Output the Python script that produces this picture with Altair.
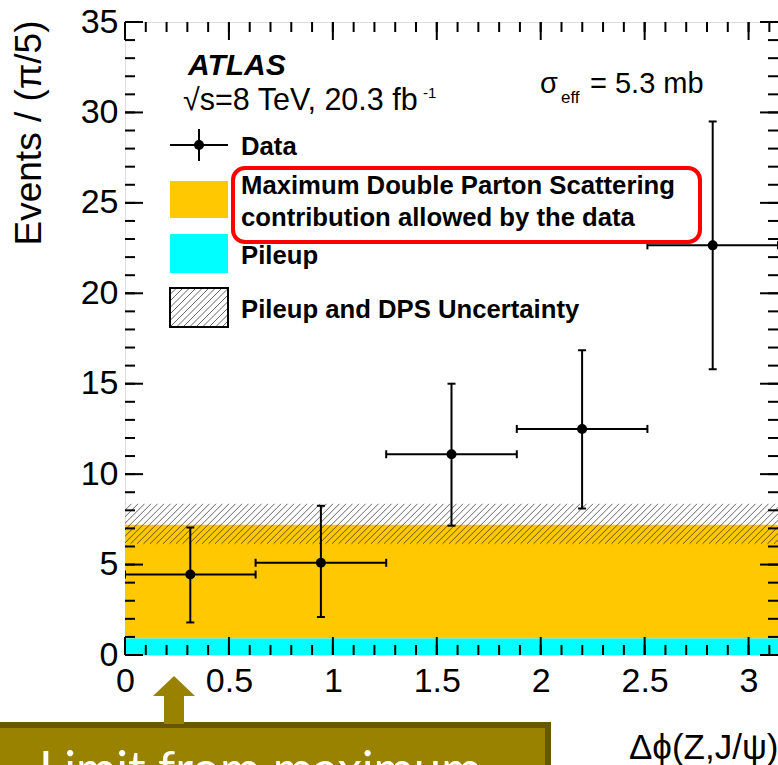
import math
import altair as alt
import pandas as pd

PI = math.pi

# Delta-phi binning: five bins of width pi/5
bin_edges = [0.0, PI / 5, 2 * PI / 5, 3 * PI / 5, 4 * PI / 5, PI]
events = [4.45, 5.10, 11.10, 12.50, 22.65]
err_low = [1.80, 2.10, 7.15, 8.10, 15.80]
err_high = [7.05, 8.25, 15.00, 16.85, 29.50]

# Flat expectations (stacked): pileup, then maximum DPS on top of it
pileup_level = 0.93
dps_level = 7.20
unc_low = 6.15
unc_high = 8.36

x_tick_values = [0, 0.5, 1, 1.5, 2, 2.5, 3]
y_tick_values = [0, 5, 10, 15, 20, 25, 30, 35]
x_minor_values = [round(0.1 * i, 1) for i in range(32)]
y_minor_values = list(range(36))

W, H = 653, 633
FONT = "Liberation Sans"
ORANGE = "#ffc800"
CYAN = "#00ffff"
OLIVE = "#998200"

xs = alt.Scale(domain=[0, PI], nice=False, zero=False)
ys = alt.Scale(domain=[0, 35], nice=False, zero=False)

# One axis definition shared by every layer so that the merged axis stays enabled
AX_X = alt.Axis(
    values=x_tick_values, format="~g", ticks=False, domain=False, grid=False,
    labelFont=FONT, labelFontSize=34, labelColor="black", labelPadding=9,
    labelFlush=False, labelOverlap=False,
    title="Δϕ(Z,J/ψ)", titleFont=FONT, titleFontSize=35, titleFontWeight="normal",
    titleColor="black", titleAlign="right", titleX=W, titleY=103,
    titleBaseline="alphabetic")
AX_Y = alt.Axis(
    values=y_tick_values, ticks=False, domain=False, grid=False,
    labelFont=FONT, labelFontSize=34, labelColor="black", labelPadding=7,
    labelFlush=False, labelOverlap=False,
    title="Events / (π/5)", titleFont=FONT, titleFontSize=37, titleFontWeight="normal",
    titleColor="black", titleAngle=270, titleAlign="right", titleX=-96, titleY=-2,
    titleBaseline="middle")


def X(field):
    return alt.X(field, scale=xs, axis=AX_X)


def Y(field):
    return alt.Y(field, scale=ys, axis=AX_Y)


pts = pd.DataFrame({
    "lo": bin_edges[:-1],
    "hi": bin_edges[1:],
    "n": events,
    "elo": err_low,
    "ehi": err_high,
})
pts["c"] = (pts["lo"] + pts["hi"]) / 2

bands = pd.DataFrame({
    "x0": [0.0, 0.0],
    "x1": [PI, PI],
    "y0": [0.0, pileup_level],
    "y1": [pileup_level, dps_level],
    "col": [CYAN, ORANGE],
})

band_layer = alt.Chart(bands).mark_rect().encode(
    x=X("x0:Q"), x2="x1:Q",
    y=Y("y0:Q"), y2="y1:Q",
    color=alt.Color("col:N", scale=None),
)

# Diagonal hatching of the uncertainty band, one 45-degree line per row
px_per_x = W / PI
px_per_y = H / 35
run = (unc_high - unc_low) * px_per_y / px_per_x
step = 6.5 / px_per_x
n_lines = int((PI + run) / step) + 2
hatch = pd.DataFrame({"k": list(range(n_lines))})
hatch["xa"] = -run + hatch["k"] * step
hatch["xb"] = hatch["xa"] + run
hatch["ya"] = unc_low
hatch["yb"] = unc_high

hatch_layer = alt.Chart(hatch).mark_rule(clip=True, color="black", strokeOpacity=0.6, strokeWidth=1).encode(
    x=X("xa:Q"), x2="xb:Q",
    y=Y("ya:Q"), y2="yb:Q",
)


# Inward tick marks on all four sides
def xticks(values, length):
    d = pd.DataFrame({"v": values})
    bottom = alt.Chart(d).mark_rule(color="black", strokeWidth=2).encode(
        x=X("v:Q"), y=alt.value(H), y2=alt.value(H - length))
    top = alt.Chart(d).mark_rule(color="black", strokeWidth=2).encode(
        x=X("v:Q"), y=alt.value(0), y2=alt.value(length))
    return [bottom, top]


def yticks(values, length):
    d = pd.DataFrame({"v": values})
    left = alt.Chart(d).mark_rule(color="black", strokeWidth=2).encode(
        y=Y("v:Q"), x=alt.value(0), x2=alt.value(length))
    right = alt.Chart(d).mark_rule(color="black", strokeWidth=2).encode(
        y=Y("v:Q"), x=alt.value(W), x2=alt.value(W - length))
    return [left, right]


tick_layers = (xticks(x_minor_values, 10) + xticks(x_tick_values, 18)
               + yticks(y_minor_values, 10) + yticks(y_tick_values, 18))

# Data: bin-width bars, statistical error bars, caps and markers
hbar = alt.Chart(pts).mark_rule(color="black", strokeWidth=2, clip=True).encode(
    x=X("lo:Q"), x2="hi:Q", y=Y("n:Q"))
vbar = alt.Chart(pts).mark_rule(color="black", strokeWidth=2).encode(
    x=X("c:Q"), y=Y("elo:Q"), y2="ehi:Q")

caps_v = pd.concat([
    pd.DataFrame({"x": pts["lo"], "y": pts["n"]}),
    pd.DataFrame({"x": pts["hi"], "y": pts["n"]}),
])
caps_h = pd.concat([
    pd.DataFrame({"x": pts["c"], "y": pts["elo"]}),
    pd.DataFrame({"x": pts["c"], "y": pts["ehi"]}),
])
cap_v_layer = alt.Chart(caps_v).mark_point(shape="M0,-1V1", size=64, stroke="black",
                                           strokeWidth=2, opacity=1, clip=True).encode(
    x=X("x:Q"), y=Y("y:Q"))
cap_h_layer = alt.Chart(caps_h).mark_point(shape="M-1,0H1", size=64, stroke="black",
                                           strokeWidth=2, opacity=1).encode(
    x=X("x:Q"), y=Y("y:Q"))
dots = alt.Chart(pts).mark_circle(size=100, color="black", opacity=1).encode(
    x=X("c:Q"), y=Y("n:Q"))

one = pd.DataFrame({"_": [0]})


def label(text, x, y, size, weight="normal", style="normal", color="black", font=FONT):
    return alt.Chart(one).mark_text(
        text=text, align="left", baseline="alphabetic", font=font, fontSize=size,
        fontWeight=weight, fontStyle=style, color=color,
    ).encode(x=alt.value(x), y=alt.value(y))


def box(x0, x1, y0, y1, **style):
    return alt.Chart(one).mark_rect(**style).encode(
        x=alt.value(x0), x2=alt.value(x1), y=alt.value(y0), y2=alt.value(y1))


# Legend
leg_x0, leg_x1 = 45, 103
leg_data_h = alt.Chart(one).mark_rule(color="black", strokeWidth=2).encode(
    x=alt.value(leg_x0), x2=alt.value(leg_x1), y=alt.value(123))
leg_data_v = alt.Chart(one).mark_rule(color="black", strokeWidth=2).encode(
    x=alt.value(74), y=alt.value(107), y2=alt.value(139))
leg_data_dot = alt.Chart(one).mark_circle(size=100, color="black", opacity=1).encode(
    x=alt.value(74), y=alt.value(123))

hb_y0, hb_y1 = 266, 305
hb_h = hb_y1 - hb_y0
leg_hatch = pd.DataFrame({"k": list(range(20))})
leg_hatch_layer = alt.Chart(leg_hatch).transform_calculate(
    t=f"{leg_x0 - hb_h} + datum.k * 6.5",
).transform_calculate(
    sx=f"max({leg_x0}, datum.t)",
    ex=f"min({leg_x1}, datum.t + {hb_h})",
).transform_calculate(
    sy=f"{hb_y1} - (datum.sx - datum.t)",
    ey=f"{hb_y1} - (datum.ex - datum.t)",
).transform_filter("datum.ex > datum.sx").mark_rule(
    color="black", strokeOpacity=0.6, strokeWidth=1).encode(
    x=alt.X("sx:Q", scale=None), x2="ex:Q",
    y=alt.Y("sy:Q", scale=None), y2="ey:Q")

LEG = 25.7
legend_layers = [
    label("ATLAS", 63, 53, 30, weight="bold", style="italic"),
    label("√s=8 TeV, 20.3 fb", 58, 88, 30.5),
    label("-1", 298, 76, 15),
    label("σ", 415, 71, 29),
    label("eff", 436, 81, 17),
    label("= 5.3 mb", 465, 71, 29),
    leg_data_h, leg_data_v, leg_data_dot,
    label("Data", 116, 133, LEG, weight="bold"),
    box(leg_x0, leg_x1, 159, 196, fill=ORANGE),
    label("Maximum Double Parton Scattering", 116, 172, LEG, weight="bold"),
    label("contribution allowed by the data", 116, 204, LEG, weight="bold"),
    box(leg_x0, leg_x1, 212, 251, fill=CYAN),
    label("Pileup", 116, 242, LEG, weight="bold"),
    leg_hatch_layer,
    box(leg_x0, leg_x1, hb_y0, hb_y1, fill="white", fillOpacity=0, stroke="black", strokeWidth=2),
    label("Pileup and DPS Uncertainty", 116, 296, LEG, weight="bold"),
    box(108, 575, 146, 220, fill="white", fillOpacity=0, stroke="#ff0000", strokeWidth=4,
        cornerRadius=12),
]

# Callout below the axis
arrow_head = alt.Chart(one).mark_point(
    shape="M-1,0.476L1,0.476L0,-0.476Z", size=1764, filled=True, fill=OLIVE,
    opacity=1, strokeWidth=0).encode(x=alt.value(49), y=alt.value(664))
callout_layers = [
    box(-140, 423, 703, 800, fill=OLIVE, stroke="#675800", strokeWidth=6),
    box(39, 59, 673, 702, fill=OLIVE),
    arrow_head,
    label("Limit from maximum", -86, 764, 49, color="white", font="Lato"),
]

chart = alt.layer(
    band_layer, hatch_layer, *tick_layers,
    hbar, vbar, cap_v_layer, cap_h_layer, dots,
    *legend_layers, *callout_layers,
).properties(
    width=W, height=H,
    padding={"left": 125, "top": 22, "right": 0, "bottom": 110},
    autosize="none",
).configure_view(stroke="black", strokeWidth=2).configure(background="white")

chart.save("out.html", embed_options={"renderer": "svg", "actions": False})
